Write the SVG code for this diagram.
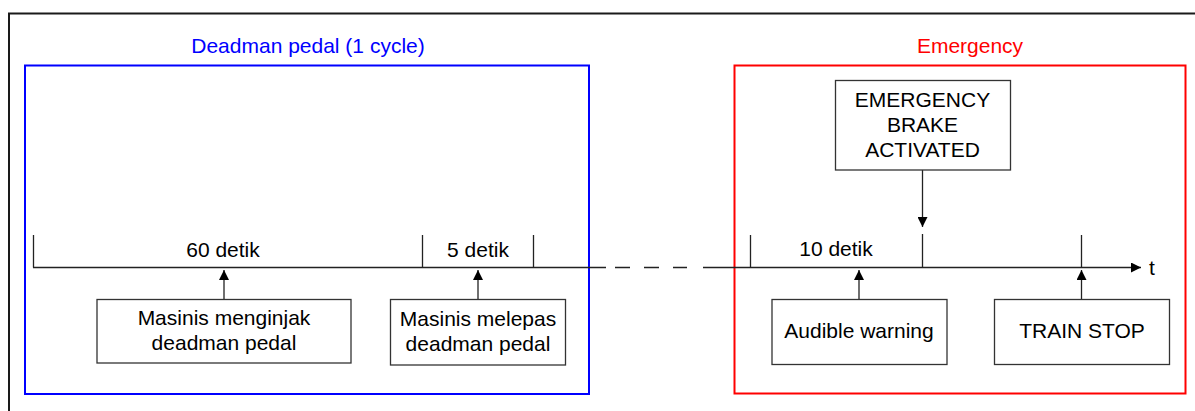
<svg xmlns="http://www.w3.org/2000/svg" width="1195" height="411" viewBox="0 0 1195 411">
<defs>
<style>
text{font-family:"Liberation Sans",Arial,sans-serif;font-size:21px;fill:#000;text-anchor:middle}
.box{fill:#fff;stroke:#333;stroke-width:1.3}
.ln{stroke:#222;stroke-width:1.3;fill:none}
</style>
<marker id="ah" viewBox="0 0 10 10" refX="10" refY="5" markerWidth="10" markerHeight="10" markerUnits="userSpaceOnUse" orient="auto">
<path d="M0,0 L10,5 L0,10 z" fill="#000"/>
</marker>
</defs>
<rect width="1195" height="411" fill="#fff"/>
<path d="M9,411 V13.5 H1195" fill="none" stroke="#1a1a1a" stroke-width="2"/>
<g id="deadman-frame">
<rect x="25" y="65.5" width="564" height="328.5" fill="none" stroke="#0000ff" stroke-width="2"/>
<text x="308" y="53" style="fill:#0000ff">Deadman pedal (1 cycle)</text>
</g>
<g id="emergency-frame">
<rect x="734.5" y="65.5" width="451" height="328" fill="none" stroke="#ff0000" stroke-width="2"/>
<text x="970" y="53" style="fill:#ff0000">Emergency</text>
</g>
<g id="connectors">
<path class="ln" d="M33,267.5 H606"/>
<path class="ln" d="M615,267.5 H630 M644,267.5 H659 M673,267.5 H687" />
<path class="ln" d="M703,267.5 H1141" marker-end="url(#ah)"/>
<path class="ln" d="M33.5,235 V267.5 M422.5,235 V267.5 M533.5,235 V267.5 M750.5,235 V267.5 M922.5,234 V267.5 M1081.5,235 V267.5"/>
<path class="ln" d="M224,299 V270" marker-end="url(#ah)"/>
<path class="ln" d="M478,299 V270" marker-end="url(#ah)"/>
<path class="ln" d="M859,299 V270" marker-end="url(#ah)"/>
<path class="ln" d="M1081.5,299 V270" marker-end="url(#ah)"/>
<path class="ln" d="M922.5,170 V227" marker-end="url(#ah)"/>
</g>
<g id="labels">
<text x="223" y="257">60 detik</text>
<text x="478" y="257">5 detik</text>
<text x="836" y="256">10 detik</text>
<text x="1152" y="275">t</text>
</g>
<g id="node-menginjak">
<rect class="box" x="97" y="299.5" width="254" height="63.5"/>
<text x="224" y="325">Masinis menginjak</text>
<text x="224" y="350">deadman pedal</text>
</g>
<g id="node-melepas">
<rect class="box" x="390.5" y="299.5" width="175" height="65.5"/>
<text x="478" y="326">Masinis melepas</text>
<text x="478" y="351">deadman pedal</text>
</g>
<g id="node-emergency-brake">
<rect class="box" x="835.5" y="80.5" width="175" height="89.5"/>
<text x="922.5" y="107">EMERGENCY</text>
<text x="922.5" y="132">BRAKE</text>
<text x="922.5" y="157">ACTIVATED</text>
</g>
<g id="node-audible">
<rect class="box" x="772" y="299.5" width="175" height="65"/>
<text x="859" y="338">Audible warning</text>
</g>
<g id="node-train-stop">
<rect class="box" x="994.5" y="299.5" width="175" height="65"/>
<text x="1082" y="338">TRAIN STOP</text>
</g>
</svg>
